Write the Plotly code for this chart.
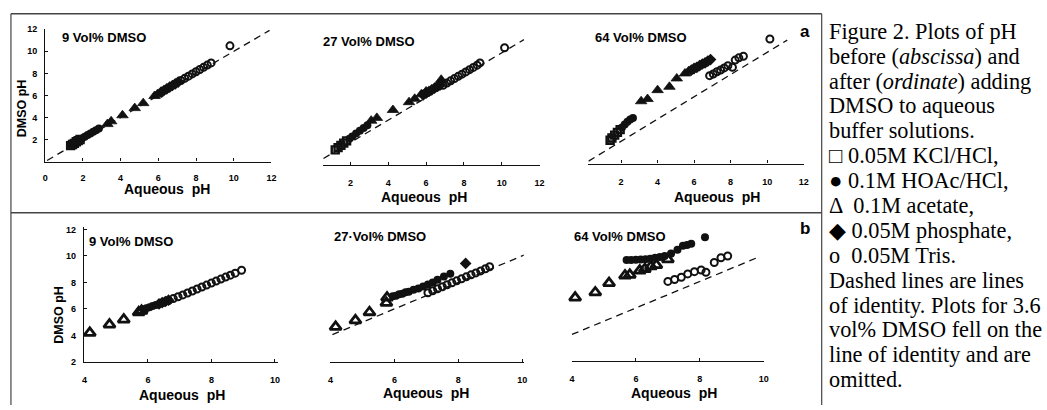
import plotly.graph_objects as go

# ---------------- data ----------------
# Row a : 9, 27, 64 vol% DMSO (aqueous pH 1-10)
A1_KCL_X = [1.35, 1.45, 1.55, 1.65, 1.75, 1.85]
A1_KCL_Y = [1.45, 1.55, 1.65, 1.8, 1.9, 2.0]
A1_HOAC_X = [1.95, 2.1, 2.25, 2.4, 2.55, 2.7, 2.85]
A1_HOAC_Y = [2.1, 2.25, 2.4, 2.55, 2.7, 2.85, 3.0]
A1_ACET_X = [3.3, 3.5, 4.1, 4.75, 5.2, 5.8, 5.95]
A1_ACET_Y = [3.4, 3.65, 4.2, 4.85, 5.3, 5.95, 6.1]
A1_PHOS_X = [6.15, 6.3, 6.45, 6.6, 6.75, 6.9, 7.05]
A1_PHOS_Y = [6.3, 6.45, 6.6, 6.75, 6.9, 7.05, 7.2]
A1_TRIS_X = [7.2, 7.4, 7.6, 7.8, 8.0, 8.2, 8.4, 8.6, 8.8, 9.8]
A1_TRIS_Y = [7.35, 7.55, 7.75, 7.95, 8.15, 8.35, 8.55, 8.75, 8.95, 10.5]

A2_KCL_X = [1.2, 1.35, 1.5, 1.65, 1.8]
A2_KCL_Y = [1.35, 1.55, 1.75, 1.95, 2.15]
A2_HOAC_X = [1.95, 2.1, 2.3, 2.5, 2.7, 2.9]
A2_HOAC_Y = [2.35, 2.55, 2.8, 3.05, 3.3, 3.55]
A2_ACET_X = [3.1, 3.4, 4.25, 5.1, 5.4, 5.75, 6.0, 6.8]
A2_ACET_Y = [3.95, 4.2, 4.9, 5.6, 5.9, 6.3, 6.55, 7.6]
A2_PHOS_X = [5.85, 6.0, 6.15, 6.3, 6.45, 6.6, 6.75]
A2_PHOS_Y = [6.25, 6.4, 6.55, 6.7, 6.85, 7.0, 7.15]
A2_TRIS_X = [6.9, 7.1, 7.3, 7.5, 7.7, 7.9, 8.1, 8.3, 8.5, 8.7, 8.85, 10.15]
A2_TRIS_Y = [7.1, 7.3, 7.5, 7.7, 7.9, 8.1, 8.3, 8.5, 8.7, 8.9, 9.1, 10.45]

A3_KCL_X = [1.4, 1.5, 1.65, 1.8, 1.95]
A3_KCL_Y = [2.1, 2.3, 2.55, 2.8, 3.05]
A3_HOAC_X = [2.05, 2.2, 2.35, 2.5, 2.65]
A3_HOAC_Y = [3.25, 3.5, 3.75, 3.95, 4.1]
A3_ACET_X = [3.1, 3.45, 4.0, 4.65, 5.05, 5.5, 5.7]
A3_ACET_Y = [5.6, 5.8, 6.6, 6.9, 7.65, 8.1, 8.3]
A3_PHOS_X = [5.85, 6.0, 6.15, 6.3, 6.45, 6.6, 6.75, 6.9]
A3_PHOS_Y = [8.4, 8.55, 8.65, 8.8, 8.95, 9.05, 9.2, 9.35]
A3_TRIS_X = [6.85, 7.05, 7.25, 7.45, 7.65, 7.85, 8.1, 8.25, 8.45, 8.7, 10.15]
A3_TRIS_Y = [7.9, 8.05, 8.25, 8.4, 8.6, 8.8, 8.65, 9.3, 9.5, 9.65, 11.2]

# Row b : 9, 27, 64 vol% DMSO (aqueous pH 4-9)
B1_ACET_X = [4.17, 4.79, 5.24, 5.71, 5.8]
B1_ACET_Y = [4.2, 4.82, 5.2, 5.75, 5.85]
B1_HOAC_X = [5.85, 5.95, 6.05, 6.15, 6.25]
B1_HOAC_Y = [5.95, 6.05, 6.12, 6.22, 6.3]
B1_PHOS_X = [6.35, 6.45, 6.55, 6.65]
B1_PHOS_Y = [6.38, 6.48, 6.56, 6.66]
B1_TRIS_X = [6.5, 6.65, 6.8, 6.95, 7.1, 7.25, 7.4, 7.55, 7.7, 7.85, 8.0, 8.15, 8.3, 8.45, 8.6, 8.75, 8.95]
B1_TRIS_Y = [6.5, 6.64, 6.78, 6.92, 7.06, 7.2, 7.35, 7.5, 7.65, 7.8, 7.95, 8.1, 8.25, 8.4, 8.55, 8.7, 8.92]

B2_ACET_X = [4.16, 4.78, 5.22, 5.75, 5.77]
B2_ACET_Y = [4.65, 5.14, 5.75, 6.45, 6.85]
B2_HOAC_X = [5.95, 6.05, 6.15, 6.25, 6.35, 6.45, 6.6, 6.75, 6.9, 7.05, 7.2, 7.35, 7.55, 7.75]
B2_HOAC_Y = [6.95, 7.0, 7.1, 7.15, 7.25, 7.3, 7.45, 7.55, 7.7, 7.85, 8.0, 8.2, 8.45, 8.65]
B2_PHOS_X = [8.23]
B2_PHOS_Y = [9.43]
B2_TRIS_X = [7.05, 7.2, 7.35, 7.5, 7.65, 7.8, 7.95, 8.1, 8.25, 8.4, 8.55, 8.7, 8.85, 8.98]
B2_TRIS_Y = [7.22, 7.37, 7.52, 7.67, 7.82, 7.97, 8.12, 8.27, 8.42, 8.57, 8.72, 8.87, 9.03, 9.18]

B3_ACET_X = [4.1, 4.73, 5.16, 5.66, 5.81, 6.12, 6.28, 6.47, 6.64, 7.0]
B3_ACET_Y = [6.78, 7.17, 7.88, 8.45, 8.5, 8.82, 8.94, 9.13, 9.23, 9.67]
B3_HOAC_X = [5.71, 5.85, 6.0, 6.15, 6.3, 6.45, 6.6, 6.75, 6.9, 7.1, 7.3, 7.47, 7.6, 7.73, 8.16]
B3_HOAC_Y = [9.62, 9.62, 9.63, 9.65, 9.68, 9.72, 9.78, 9.85, 9.92, 10.1, 10.4, 10.7, 10.75, 10.85, 11.34]
B3_TRIS_X = [7.0, 7.21, 7.42, 7.62, 7.83, 8.04, 8.19, 8.45, 8.66, 8.87]
B3_TRIS_Y = [8.0, 8.15, 8.32, 8.57, 8.74, 8.86, 8.69, 9.43, 9.79, 9.92]

# lines of identity (extent of each dashed line, aqueous pH)
ID_A1 = [0.1, 11.9]
ID_A2 = [0.58, 11.17]
ID_A3 = [0.22, 11.1]
ID_B2 = [4.06, 10.06]
ID_B3 = [4.0, 9.85]

TICKS_A1 = [0, 2, 4, 6, 8, 10, 12]
TICKS_A = [2, 4, 6, 8, 10, 12]
TICKS_B = [4, 6, 8, 10]
YTICKS_A = [2, 4, 6, 8, 10, 12]
YTICKS_B = [2, 4, 6, 8, 10, 12]

PANEL_TITLES = ["9 Vol% DMSO", "27 Vol% DMSO", "64 Vol% DMSO",
                "9 Vol% DMSO", "27·Vol% DMSO", "64 Vol% DMSO"]
X_TITLE = "Aqueous\u00a0\u00a0pH"
Y_TITLE = "DMSO pH"

CAPTION_LINES = [
    "Figure 2. Plots of pH",
    "before (<i>abscissa</i>) and",
    "after (<i>ordinate</i>) adding",
    "DMSO to aqueous",
    "buffer solutions.",
    "\u25a1 0.05M KCl/HCl,",
    "\u25cf 0.1M HOAc/HCl,",
    "\u0394  0.1M acetate,",
    "\u25c6 0.05M phosphate,",
    "o  0.05M Tris.",
    "Dashed lines are lines",
    "of identity. Plots for 3.6",
    "vol% DMSO fell on the",
    "line of identity and are",
    "omitted.",
]

# ---------------- layout helpers ----------------
W, H = 1047, 410
SANS = "Liberation Sans, Arial, sans-serif"
SERIF = "Liberation Serif, Times New Roman, serif"
INK = "#111111"


def px_x(p):
    return p / W


def px_y(p):
    return 1 - p / H


STYLE = {
    "kcl": dict(symbol="square-open", size=7, color=INK, line=dict(width=2.4, color=INK)),
    "hoac": dict(symbol="circle", size=8, color=INK, line=dict(width=0)),
    "acet": dict(symbol="triangle-up-open", size=10, color=INK, line=dict(width=2.8, color=INK)),
    "acetf": dict(symbol="triangle-up", size=10, color=INK, line=dict(width=0.8, color=INK)),
    "phos": dict(symbol="diamond", size=9, color=INK, line=dict(width=0)),
    "tris": dict(symbol="circle-open", size=7, color=INK, line=dict(width=2.0, color=INK)),
}

# panel geometry (pixel positions of the plotting areas)
panels = [
    dict(xr=[0, 12], xpx=(42.5, 270.5), yr=[0, 12], ypx=(160.5, 24.9), xt=TICKS_A1, yshow=True,
         yt=YTICKS_A, xstand=7, series=[("kcl", A1_KCL_X, A1_KCL_Y), ("hoac", A1_HOAC_X, A1_HOAC_Y),
                                        ("acetf", A1_ACET_X, A1_ACET_Y), ("phos", A1_PHOS_X, A1_PHOS_Y),
                                        ("tris", A1_TRIS_X, A1_TRIS_Y)], ident=ID_A1),
    dict(xr=[0.55, 12.02], xpx=(322.4, 541.1), yr=[0, 12], ypx=(164, 26), xt=TICKS_A, yshow=False,
         yt=YTICKS_A, xstand=9, series=[("kcl", A2_KCL_X, A2_KCL_Y), ("hoac", A2_HOAC_X, A2_HOAC_Y),
                                        ("acetf", A2_ACET_X, A2_ACET_Y), ("phos", A2_PHOS_X, A2_PHOS_Y),
                                        ("tris", A2_TRIS_X, A2_TRIS_Y)], ident=ID_A2),
    dict(xr=[0.2, 12.02], xpx=(589.7, 807.2), yr=[0, 12], ypx=(162.5, 25.7), xt=TICKS_A, yshow=False,
         yt=YTICKS_A, xstand=10, series=[("kcl", A3_KCL_X, A3_KCL_Y), ("hoac", A3_HOAC_X, A3_HOAC_Y),
                                         ("acetf", A3_ACET_X, A3_ACET_Y), ("phos", A3_PHOS_X, A3_PHOS_Y),
                                         ("tris", A3_TRIS_X, A3_TRIS_Y)], ident=ID_A3),
    dict(xr=[3.99, 10.1], xpx=(81.7, 277.2), yr=[1.99, 12.2], ypx=(366, 227.3), xt=TICKS_B, yshow=True,
         yt=YTICKS_B, xstand=9, series=[("acet", B1_ACET_X, B1_ACET_Y), ("hoac", B1_HOAC_X, B1_HOAC_Y),
                                        ("phos", B1_PHOS_X, B1_PHOS_Y), ("tris", B1_TRIS_X, B1_TRIS_Y)],
         ident=None),
    dict(xr=[3.99, 10.05], xpx=(329.7, 524.8), yr=[1.99, 12.2], ypx=(366, 227.3), xt=TICKS_B, yshow=False,
         yt=YTICKS_B, xstand=9, series=[("acet", B2_ACET_X, B2_ACET_Y), ("hoac", B2_HOAC_X, B2_HOAC_Y),
                                        ("phos", B2_PHOS_X, B2_PHOS_Y), ("tris", B2_TRIS_X, B2_TRIS_Y)],
         ident=ID_B2),
    dict(xr=[3.99, 10.01], xpx=(573.0, 767.0), yr=[1.99, 12.2], ypx=(365, 226.3), xt=TICKS_B, yshow=False,
         yt=YTICKS_B, xstand=9, series=[("acet", B3_ACET_X, B3_ACET_Y), ("hoac", B3_HOAC_X, B3_HOAC_Y),
                                        ("tris", B3_TRIS_X, B3_TRIS_Y)], ident=ID_B3),
]

fig = go.Figure()
layout = dict(
    width=W, height=H, autosize=False,
    margin=dict(l=0, r=0, t=0, b=0, pad=0),
    paper_bgcolor="white", plot_bgcolor="rgba(0,0,0,0)",
    showlegend=False,
)

for i, p in enumerate(panels, start=1):
    xa = "x" if i == 1 else f"x{i}"
    ya = "y" if i == 1 else f"y{i}"
    xkey = "xaxis" if i == 1 else f"xaxis{i}"
    ykey = "yaxis" if i == 1 else f"yaxis{i}"
    layout[xkey] = dict(
        domain=[px_x(p["xpx"][0]), px_x(p["xpx"][1])], range=p["xr"], anchor=ya,
        showline=True, linecolor=INK, linewidth=1.3, mirror=False,
        ticks="inside", ticklen=3, tickwidth=1, tickcolor=INK,
        tickmode="array", tickvals=p["xt"], ticklabelstandoff=p["xstand"],
        tickfont=dict(family=SANS, size=9, color="black", weight="bold"),
        showgrid=False, zeroline=False,
    )
    layout[ykey] = dict(
        domain=[px_y(p["ypx"][0]), px_y(p["ypx"][1])], range=p["yr"], anchor=xa,
        visible=p["yshow"], showline=True, linecolor=INK, linewidth=1.3,
        ticks="inside", ticklen=3, tickwidth=1, tickcolor=INK,
        tickmode="array", tickvals=p["yt"], ticklabelstandoff=5,
        tickfont=dict(family=SANS, size=9, color="black", weight="bold"),
        showgrid=False, zeroline=False,
    )
    if p["ident"] is not None:
        fig.add_trace(go.Scatter(x=p["ident"], y=p["ident"], mode="lines", xaxis=xa, yaxis=ya,
                                 line=dict(color=INK, width=1.3, dash="7px,5px"),
                                 hoverinfo="skip", cliponaxis=False))
    for key, xs, ys in p["series"]:
        fig.add_trace(go.Scatter(x=xs, y=ys, mode="markers", xaxis=xa, yaxis=ya,
                                 marker=STYLE[key], cliponaxis=False))

fig.update_layout(**layout)

# ---------------- text ----------------
ann = []


def text(x, y, s, size, family=SANS, bold=True, angle=0, xanchor="center"):
    ann.append(dict(x=px_x(x), y=px_y(y), xref="paper", yref="paper", text=(f"<b>{s}</b>" if bold else s),
                    showarrow=False, xanchor=xanchor, yanchor="middle", textangle=angle,
                    font=dict(family=family, size=size, color="black")))


title_pos = [(101.7, 33), (369, 37), (643, 33), (129, 242), (380, 237.5), (622, 237)]
for (tx, ty), t in zip(title_pos, PANEL_TITLES):
    text(tx, ty, t, 13)

xtitle_pos = [(165, 189), (424, 197), (719, 197), (180, 400), (426, 398), (676, 398)]
for tx, ty in xtitle_pos:
    text(tx, ty, X_TITLE, 14)

text(20, 106, Y_TITLE, 12.5, angle=-90)
text(57, 318, Y_TITLE, 12.5, angle=-90)

text(808, 27, "a", 17)
text(808, 229, "b", 17)

for k, line in enumerate(CAPTION_LINES):
    text(830, 27 + k * 25.5, line, 22.3, family=SERIF, bold=False, xanchor="left")

fig.update_layout(annotations=ann)

# ---------------- frame lines ----------------
frame = "#444444"
shapes = [
    dict(type="line", xref="paper", yref="paper", x0=px_x(8), x1=px_x(825), y0=px_y(9), y1=px_y(9),
         line=dict(color=frame, width=1.4)),
    dict(type="line", xref="paper", yref="paper", x0=px_x(8), x1=px_x(8), y0=px_y(9), y1=px_y(410),
         line=dict(color=frame, width=1.2)),
    dict(type="line", xref="paper", yref="paper", x0=px_x(825), x1=px_x(825), y0=px_y(9), y1=px_y(410),
         line=dict(color=frame, width=1.2)),
    dict(type="line", xref="paper", yref="paper", x0=px_x(8), x1=px_x(825), y0=px_y(213), y1=px_y(213),
         line=dict(color=frame, width=1.4)),
]
fig.update_layout(shapes=shapes)

fig.write_html(
    "out.html",
    config={"displayModeBar": False},
    post_script="document.body.style.margin='0';document.body.style.overflow='hidden';",
)
